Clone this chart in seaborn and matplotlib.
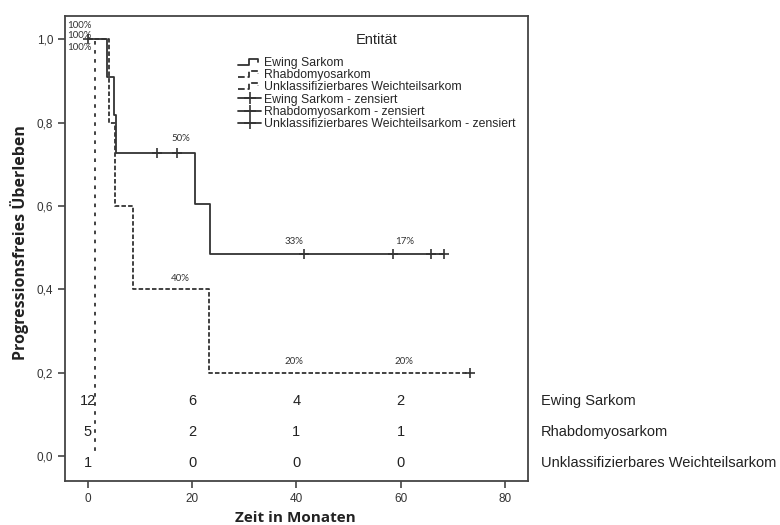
import numpy as np
import pandas as pd
import matplotlib
matplotlib.use("Agg")
from matplotlib import pyplot as plt
from matplotlib.lines import Line2D
from matplotlib.legend_handler import HandlerBase
import matplotlib.transforms as mtransforms
import seaborn as sns

groups = ["Ewing Sarkom", "Rhabdomyosarkom", "Unklassifizierbares Weichteilsarkom"]

# Kaplan-Meier steps (Zeit in Monaten, progressionsfreies Überleben)
ewing_t = [0, 3.7, 5.0, 5.4, 20.5, 23.5, 68.3]
ewing_s = [1.0, 0.909, 0.818, 0.727, 0.606, 0.485, 0.485]
rhabdo_t = [0, 4.1, 5.2, 8.7, 23.2, 73.4]
rhabdo_s = [1.0, 0.8, 0.6, 0.4, 0.2, 0.2]
unkl_t = [0, 1.4]
unkl_s = [1.0, 0.0]

# censored cases
ewing_cens_t = [0.0, 13.2, 17.0, 41.5, 58.6, 65.8, 68.3]
ewing_cens_s = [1.0, 0.727, 0.727, 0.485, 0.485, 0.485, 0.485]
rhabdo_cens_t = [73.4]
rhabdo_cens_s = [0.2]

# numbers at risk
risk_times = [0, 20, 40, 60]
risk_ewing = [12, 6, 4, 2]
risk_rhabdo = [5, 2, 1, 1]
risk_unkl = [1, 0, 0, 0]
risk_rows_y = [0.132, 0.058, -0.017]

# percent labels on the curves
pct_labels = ["100%", "100%", "100%", "50%", "40%", "33%", "20%", "17%", "20%"]
pct_x = [-1.7, -1.7, -1.7, 17.8, 17.7, 39.6, 39.6, 60.7, 60.7]
pct_y = [1.033, 1.009, 0.981, 0.761, 0.427, 0.516, 0.228, 0.514, 0.226]

x_ticks = [0, 20, 40, 60, 80]
y_ticks = [0.0, 0.2, 0.4, 0.6, 0.8, 1.0]
y_ticklabels = ["0,0", "0,2", "0,4", "0,6", "0,8", "1,0"]


class StepHandler(HandlerBase):
    # little step glyph like the SPSS legend
    def create_artists(self, legend, orig_handle, xdescent, ydescent, width, height, fontsize, trans):
        x0, y0 = -xdescent, -ydescent
        xs = [x0, x0 + 0.45 * width, x0 + 0.45 * width, x0 + 0.85 * width, x0 + 0.85 * width]
        ys = [y0 + 0.15 * height, y0 + 0.15 * height, y0 + 0.85 * height, y0 + 0.85 * height, y0 + 0.5 * height]
        line = Line2D(xs, ys, color=orig_handle.get_color(), linestyle=orig_handle.get_linestyle(),
                      linewidth=orig_handle.get_linewidth())
        line.set_transform(trans)
        return [line]


sns.set_style("ticks")
plt.rcParams["font.family"] = ["Liberation Sans", "DejaVu Sans"]

line_col = "#333333"
styles = ["-", (0, (2.5, 1.2)), (0, (2, 3))]

fig = plt.figure(figsize=(7.8, 5.25), dpi=100)
ax = fig.add_axes([65 / 780, 1 - 481 / 525, (528 - 65) / 780, (481 - 16) / 525])

series = [(ewing_t, ewing_s), (rhabdo_t, rhabdo_s), (unkl_t, unkl_s)]
for (t, s), ls in zip(series, styles):
    df = pd.DataFrame({"t": t, "s": s})
    sns.lineplot(data=df, x="t", y="s", ax=ax, drawstyle="steps-post", color=line_col,
                 linestyle=ls, linewidth=1.3, estimator=None, sort=False, legend=False)

cens = pd.DataFrame({"t": ewing_cens_t + rhabdo_cens_t, "s": ewing_cens_s + rhabdo_cens_s})
sns.scatterplot(data=cens, x="t", y="s", ax=ax, marker="+", s=55, color=line_col, linewidth=1.2,
                legend=False, zorder=3)

for lab, x, y in zip(pct_labels, pct_x, pct_y):
    ax.text(x, y, lab, ha="center", va="center", fontsize=7, color="#333333", family="Lato")

trans = mtransforms.blended_transform_factory(ax.transAxes, ax.transData)
for counts, y, name in zip([risk_ewing, risk_rhabdo, risk_unkl], risk_rows_y, groups):
    for t, n in zip(risk_times, counts):
        ax.text(t, y, str(n), ha="center", va="center", fontsize=10.5, color="#222222")
    ax.text(1.028, y, name, transform=trans, ha="left", va="center", fontsize=10.5,
            color="#222222", clip_on=False)

ax.set_xlim(-4.41, 84.45)
ax.set_ylim(-0.06, 1.056)
ax.set_xticks(x_ticks)
ax.set_yticks(y_ticks)
ax.set_yticklabels(y_ticklabels)
ax.set_xlabel("")
ax.set_ylabel("")
ax.tick_params(direction="out", length=5, width=1.2, color="#444444", labelsize=8.5, labelcolor="#333333")
for sp in ax.spines.values():
    sp.set_visible(True)
    sp.set_color("#444444")
    sp.set_linewidth(1.3)

fig.text(20 / 780, 1 - 243 / 525, "Progressionsfreies Überleben", rotation=90, ha="center", va="center",
         fontsize=11.5, fontweight="bold", family="Open Sans", color="#222222")
fig.text(295 / 780, 1 - 518 / 525, "Zeit in Monaten", ha="center", va="center",
         fontsize=11, fontweight="bold", family="Open Sans", color="#222222")

step_handles = [Line2D([], [], color=line_col, linestyle=ls, linewidth=1.3) for ls in styles]
cens_handles = [Line2D([], [], color=line_col, linewidth=1.3, marker="+", markersize=9, markeredgewidth=1.2)
                for _ in groups]
handles = step_handles + cens_handles
labels = groups + [g + " - zensiert" for g in groups]
leg = ax.legend(handles, labels, title="Entität", loc="upper left", bbox_to_anchor=(0.374, 0.963),
                frameon=False, fontsize=8.8, title_fontsize=10.5, handlelength=1.9, handletextpad=0.2,
                labelspacing=0.02, borderpad=0, borderaxespad=0,
                handler_map={h: StepHandler() for h in step_handles})
leg._legend_box.sep = 7

fig.savefig("out.png", dpi=100)
